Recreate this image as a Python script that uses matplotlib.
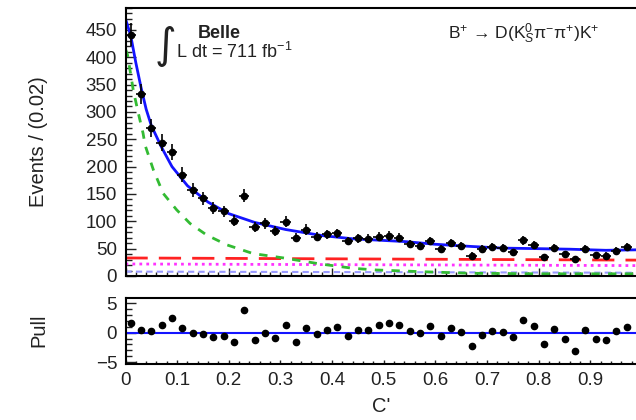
import matplotlib
matplotlib.use("Agg")
import matplotlib.pyplot as plt
from matplotlib.ticker import MultipleLocator
import numpy as np

plt.rcParams['font.family'] = ['Liberation Sans', 'DejaVu Sans']
plt.rcParams['mathtext.fontset'] = 'custom'
plt.rcParams['mathtext.rm'] = 'Liberation Sans'
plt.rcParams['mathtext.it'] = 'Liberation Sans:italic'

# data histogram, bins of 0.02 (last bin falls outside the visible area)
bin_width = 0.02
counts = [441, 332, 270, 244, 227, 185, 157, 142, 125, 118,
          101, 147, 89, 96, 83, 99, 70, 85, 72, 76,
          78, 64, 69, 68, 72, 73, 70, 59, 55, 64,
          49, 60, 54, 37, 49, 53, 51, 43, 65, 57,
          35, 52, 40, 31, 49, 38, 37, 46, 53]
pulls = [1.64, 0.51, 0.28, 1.35, 2.49, 0.84, 0.0, -0.19, -0.75, -0.56,
         -1.58, 3.9, -1.18, 0.0, -0.84, 1.24, -1.58, 0.84, -0.28, 0.51,
         0.93, -0.56, 0.51, 0.51, 1.35, 1.68, 1.35, 0.22, 0.0, 1.07,
         -0.62, 0.79, 0.11, -2.33, -0.47, 0.22, 0.11, -0.75, 2.09, 1.07,
         -1.86, 0.56, -1.03, -3.08, 0.39, -1.03, -1.3, 0.22, 0.96]

# fit curves
total_x = [0.0, 0.01, 0.02, 0.03, 0.04, 0.05, 0.07, 0.09, 0.12, 0.16, 0.2,
           0.25, 0.31, 0.38, 0.44, 0.5, 0.54, 0.6, 0.67, 0.73, 0.8, 0.86, 0.93, 1.0]
total_y = [470, 440, 390, 345, 305, 275, 235, 200, 165, 135, 114,
           98, 85, 74, 68, 65, 63, 58, 54, 51, 50, 49, 47, 48]
sig_x = [0.0, 0.004, 0.015, 0.025, 0.034, 0.038, 0.054, 0.073, 0.099, 0.125, 0.157,
         0.196, 0.247, 0.306, 0.377, 0.441, 0.486, 0.57, 0.667, 0.8, 1.0]
sig_y = [415, 404, 340, 297, 261, 239, 194, 151, 121, 96, 75,
         57, 41, 33, 22, 14, 11, 8, 5, 4, 4]
red_x = [0.0, 1.0]
red_y = [33, 29]
mag_x = [0.0, 1.0]
mag_y = [22, 19]
lb_x = [0.0, 1.0]
lb_y = [8, 6]

centers = bin_width / 2 + bin_width * np.arange(len(counts))
counts = np.array(counts)

W, H = 636, 420
fig = plt.figure(figsize=(W / 100, H / 100), dpi=100)
ax = fig.add_axes([125.5 / W, 1 - 276 / H, 516.5 / W, 268 / H])
axp = fig.add_axes([125.5 / W, 1 - 364 / H, 516.5 / W, 66 / H])

ax.plot(lb_x, lb_y, color='#9999ff', lw=1.5, ls=(0, (3, 2)))
ax.plot(mag_x, mag_y, color='#ff33ff', lw=2, ls=(0, (1, 1.5)))
ax.plot(red_x, red_y, color='#ff2222', lw=2, ls=(0, (8, 4)))
ax.plot(sig_x, sig_y, color='#33bb33', lw=2, ls=(0, (3, 3)))
ax.plot(total_x, total_y, color='#1414ff', lw=2)
ax.errorbar(centers, counts, yerr=np.sqrt(counts), xerr=bin_width / 2,
            fmt='o', color='black', ms=4.5, elinewidth=1.2, capsize=0)

ax.set_xlim(0, 1)
ax.set_ylim(0, 490)
ax.set_xticklabels([])
ax.yaxis.set_major_locator(MultipleLocator(50))
ax.yaxis.set_minor_locator(MultipleLocator(10))
ax.set_ylabel('Events / (0.02)', fontsize=14.5, color='#222222')
ax.yaxis.set_label_coords(-0.15, 0.5)

# integral sign + labels
ax.text(0.056, 0.86, '∫', transform=ax.transAxes, fontsize=30,
        family='DejaVu Sans', va='center', ha='left', color='#222222')
ax.text(0.14, 0.905, 'Belle', transform=ax.transAxes, fontsize=13,
        fontweight='bold', va='center', ha='left', color='#222222')
ax.text(0.098, 0.836, r'L dt = 711 fb$^{-1}$', transform=ax.transAxes,
        fontsize=13, va='center', ha='left', color='#222222')
ax.text(0.625, 0.905, 'B$^{+}$ → D(K$^{0}_{S}$π$^{-}$π$^{+}$)K$^{+}$',
        transform=ax.transAxes, fontsize=12.6, va='center', ha='left', color='#222222')

axp.axhline(0, color='#1414ff', lw=1.5)
axp.plot(centers, pulls, 'o', color='black', ms=4.5)
axp.set_xlim(0, 1)
axp.set_ylim(-5.3, 5.85)
axp.yaxis.set_minor_locator(MultipleLocator(1))
axp.set_yticks([-5, 0, 5])
axp.set_yticklabels(['−5', '0', '5'])
axp.set_ylabel('Pull', fontsize=14.5, color='#222222')
axp.yaxis.set_label_coords(-0.15, 0.515)
axp.set_xlabel("C'", fontsize=14.5, color='#222222')
axp.xaxis.set_label_coords(0.495, -0.5)
axp.set_xticks(np.arange(0, 1.0, 0.1))
axp.set_xticklabels(['0', '0.1', '0.2', '0.3', '0.4', '0.5', '0.6', '0.7', '0.8', '0.9'])

for a in (ax, axp):
    a.xaxis.set_minor_locator(MultipleLocator(0.02))
    a.tick_params(which='both', direction='in', labelsize=13.5, colors='#222222', pad=6)
    a.tick_params(which='major', length=7, width=1)
    a.tick_params(which='minor', length=4, width=1)
    for s in a.spines.values():
        s.set_linewidth(1.5)
axp.tick_params(axis='x', which='major', length=3)
axp.tick_params(axis='x', which='minor', length=2)
ax.tick_params(axis='x', which='major', length=6)
ax.tick_params(axis='x', which='minor', length=3)

fig.savefig('out.png', dpi=100)
